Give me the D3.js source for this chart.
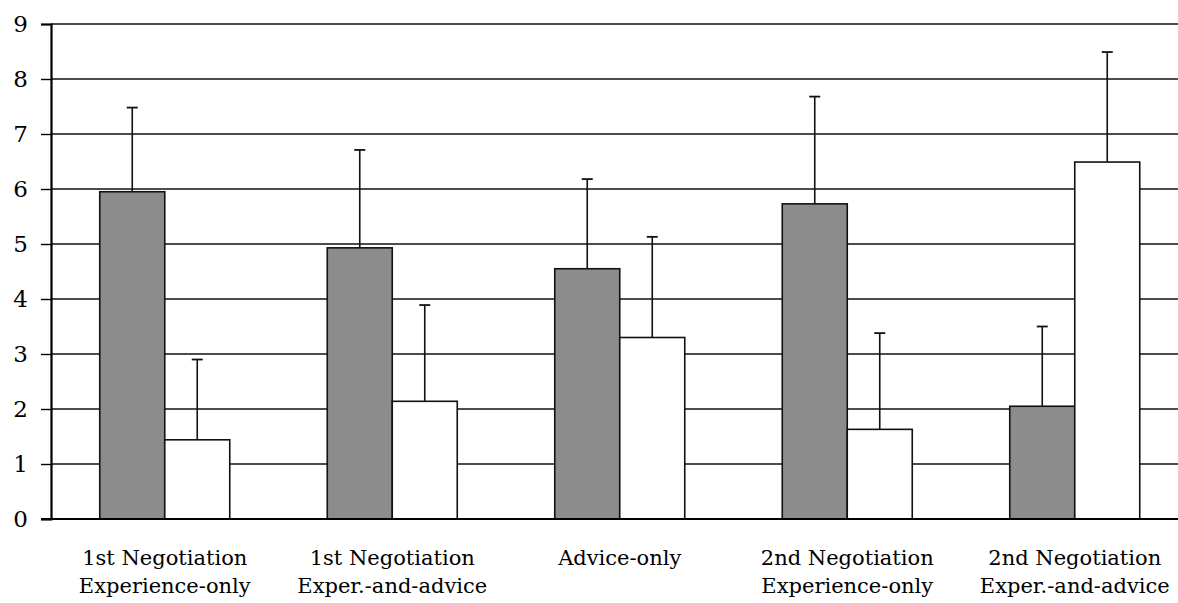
<!DOCTYPE html>
<html>
<head>
<meta charset="utf-8">
<script src="https://cdn.jsdelivr.net/npm/d3@7"></script>
<style>
  body { margin: 0; background: #fff; }
</style>
</head>
<body>
<script>
var categories = [
  ["1st Negotiation", "Experience-only"],
  ["1st Negotiation", "Exper.-and-advice"],
  ["Advice-only"],
  ["2nd Negotiation", "Experience-only"],
  ["2nd Negotiation", "Exper.-and-advice"]
];
var grayValues  = [5.95, 4.93, 4.55, 5.73, 2.05];
var grayErrors  = [7.48, 6.71, 6.18, 7.68, 3.50];
var whiteValues = [1.44, 2.14, 3.30, 1.63, 6.49];
var whiteErrors = [2.90, 3.89, 5.13, 3.38, 8.49];
var yTicks = [0, 1, 2, 3, 4, 5, 6, 7, 8, 9];

var W = 1178, H = 603;
var x0 = 51, x1 = 1188.5, yTop = 24, yBot = 519;
var serif = "'DejaVu Serif', 'Noto Serif', serif";

var svg = d3.select("body").append("svg")
    .attr("width", W)
    .attr("height", H);

var xScale = d3.scaleBand()
    .domain(d3.range(categories.length))
    .range([x0, x1]);

var yScale = d3.scaleLinear()
    .domain([0, 9])
    .range([yBot, yTop]);

var barW = xScale.bandwidth() * 0.2857;

// gridlines
svg.append("g")
  .selectAll("line")
  .data(yTicks.slice(1))
  .enter().append("line")
    .attr("x1", x0)
    .attr("x2", W)
    .attr("y1", function(d) { return yScale(d); })
    .attr("y2", function(d) { return yScale(d); })
    .attr("stroke", "#111")
    .attr("stroke-width", 1.4);

// axis-y
var yAxis = svg.append("g")
    .attr("transform", "translate(" + x0 + ",0)")
    .call(d3.axisLeft(yScale).tickValues(yTicks).tickSize(10).tickPadding(13).tickFormat(d3.format("d")));
yAxis.attr("font-family", serif).attr("font-size", 23);
yAxis.select(".domain").attr("stroke", "#000").attr("stroke-width", 2.2);
yAxis.selectAll(".tick line").attr("stroke", "#000").attr("stroke-width", 1.4);
yAxis.selectAll(".tick text")
    .attr("fill", "#000")
    .style("font-family", serif)
    .style("font-size", "23px");

var groups = svg.append("g")
  .selectAll("g")
  .data(categories)
  .enter().append("g");

function errBar(sel, getX, getV, getE) {
  sel.append("line")
    .attr("x1", getX).attr("x2", getX)
    .attr("y1", function(d, i) { return yScale(getV(i)); })
    .attr("y2", function(d, i) { return yScale(getE(i)); })
    .attr("stroke", "#111").attr("stroke-width", 1.6);
  sel.append("line")
    .attr("x1", function(d, i) { return getX(d, i) - 5.5; })
    .attr("x2", function(d, i) { return getX(d, i) + 5.5; })
    .attr("y1", function(d, i) { return yScale(getE(i)); })
    .attr("y2", function(d, i) { return yScale(getE(i)); })
    .attr("stroke", "#111").attr("stroke-width", 1.8);
}

function center(i) { return xScale(i) + xScale.bandwidth() / 2; }

// error bars (drawn under bars)
errBar(groups, function(d, i) { return center(i) - barW / 2; },
       function(i) { return grayValues[i]; }, function(i) { return grayErrors[i]; });
errBar(groups, function(d, i) { return center(i) + barW / 2; },
       function(i) { return whiteValues[i]; }, function(i) { return whiteErrors[i]; });

// gray bars
groups.append("rect")
    .attr("x", function(d, i) { return center(i) - barW; })
    .attr("y", function(d, i) { return yScale(grayValues[i]); })
    .attr("width", barW)
    .attr("height", function(d, i) { return yBot - yScale(grayValues[i]); })
    .attr("fill", "#8c8c8c")
    .attr("stroke", "#111")
    .attr("stroke-width", 1.6);

// white bars
groups.append("rect")
    .attr("x", function(d, i) { return center(i); })
    .attr("y", function(d, i) { return yScale(whiteValues[i]); })
    .attr("width", barW)
    .attr("height", function(d, i) { return yBot - yScale(whiteValues[i]); })
    .attr("fill", "#fff")
    .attr("stroke", "#111")
    .attr("stroke-width", 1.6);

// baseline
svg.append("line")
    .attr("x1", x0 - 10).attr("x2", W)
    .attr("y1", yBot).attr("y2", yBot)
    .attr("stroke", "#000").attr("stroke-width", 2.2);

// category labels
groups.each(function(d, i) {
  var t = d3.select(this).append("text")
      .attr("text-anchor", "middle")
      .attr("fill", "#000")
      .style("font-family", serif)
      .style("font-size", "21px");
  d.forEach(function(line, j) {
    t.append("tspan")
      .attr("x", center(i))
      .attr("y", 565 + j * 28)
      .text(line);
  });
});
</script>
</body>
</html>
